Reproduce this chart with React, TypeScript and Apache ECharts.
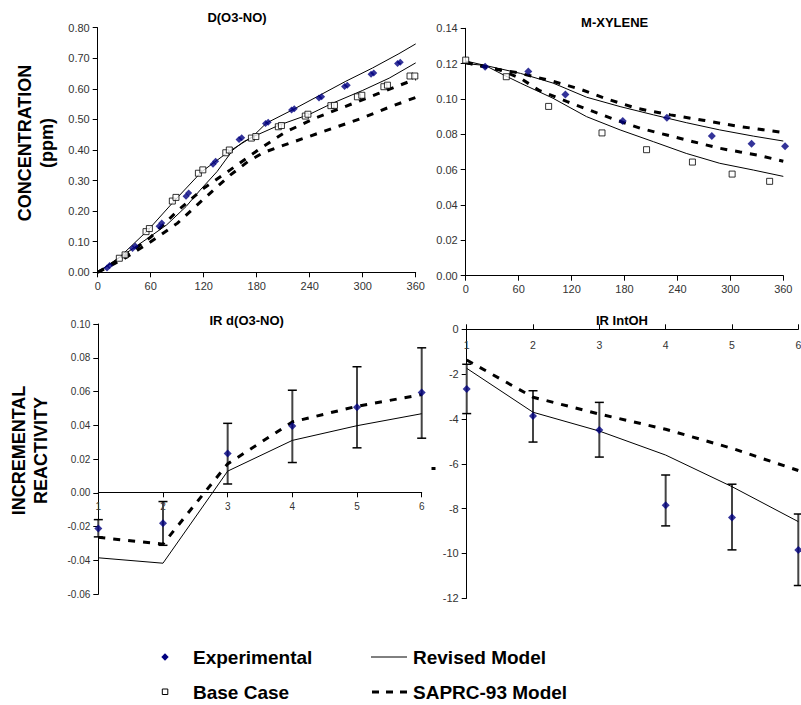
import React, { useEffect, useRef } from 'react';
import * as echarts from 'echarts';

const FONT = '"Liberation Sans", Arial, Helvetica, sans-serif';
const NAVY = '#000080';

// ---------- D(O3-NO) panel (time in minutes, ppm) ----------
const tlExpA = [[10.5, 0.014], [39.5, 0.078], [69.5, 0.151], [100, 0.249], [130.5, 0.353], [160, 0.434], [190, 0.487], [219.5, 0.531], [250.5, 0.57], [279.5, 0.608], [309.5, 0.648], [339.5, 0.683]];
const tlExpB = [[13.5, 0.022], [42.5, 0.086], [72.5, 0.161], [103, 0.259], [133.5, 0.363], [163, 0.44], [193, 0.491], [222.5, 0.535], [253.5, 0.574], [282.5, 0.612], [312.5, 0.652], [342.5, 0.687]];
const tlBaseA = [[24.5, 0.046], [54.7, 0.133], [84.5, 0.233], [114, 0.324], [145, 0.391], [174, 0.439], [204.5, 0.476], [235, 0.511], [264, 0.545], [294, 0.574], [324, 0.607], [353.6, 0.642]];
const tlBaseB = [[31, 0.057], [58.5, 0.143], [88.6, 0.245], [119, 0.335], [149, 0.4], [179, 0.444], [208, 0.48], [238, 0.517], [268, 0.546], [299, 0.579], [328, 0.612], [359, 0.642]];
const tlRevA = [[0, 0], [25, 0.05], [57, 0.138], [87.5, 0.236], [117.7, 0.329], [148, 0.394], [174, 0.441], [206, 0.482], [240, 0.517], [265, 0.552], [300, 0.595], [330, 0.635], [360, 0.685]];
const tlRevB = [[0, 0], [40, 0.078], [59, 0.116], [78, 0.155], [100, 0.215], [116, 0.269], [135, 0.329], [153, 0.4], [165, 0.427], [174, 0.44], [191, 0.488], [221, 0.532], [252, 0.58], [281, 0.625], [311, 0.668], [341, 0.715], [360, 0.747]];
const tlSapC = [[0, 0], [30, 0.05], [60, 0.115], [90, 0.2], [120, 0.275], [150, 0.335], [184, 0.405], [212, 0.458], [246, 0.504], [280, 0.542], [318, 0.585], [360, 0.632]];
const tlSapD = [[0, 0], [30, 0.045], [60, 0.1], [90, 0.16], [120, 0.24], [150, 0.318], [170, 0.362], [188, 0.392], [210, 0.415], [240, 0.445], [270, 0.475], [300, 0.505], [330, 0.54], [360, 0.572]];

// ---------- M-XYLENE panel ----------
const trExp = [[22, 0.1183], [71, 0.1155], [113, 0.1026], [178, 0.0875], [228, 0.0894], [279, 0.079], [324, 0.0747], [362, 0.0732]];
const trBase = [[0, 0.122], [46, 0.1126], [94, 0.0958], [154.5, 0.0808], [205, 0.0713], [257, 0.0643], [302, 0.0575], [344.5, 0.0534]];
const trRevA = [[0, 0.12], [22, 0.119], [62, 0.1145], [99, 0.109], [137, 0.101], [175, 0.0957], [213, 0.091], [250, 0.0866], [288, 0.0825], [326, 0.079], [360, 0.0762]];
const trRevB = [[0, 0.1215], [22, 0.119], [43, 0.1136], [62, 0.109], [99, 0.1004], [137, 0.09], [175, 0.0825], [213, 0.0758], [250, 0.0692], [288, 0.0636], [326, 0.0598], [360, 0.0562]];
const trSapA = [[0, 0.1206], [35, 0.1168], [58, 0.115], [99, 0.11], [130, 0.1055], [160, 0.1], [194, 0.0947], [232, 0.091], [269, 0.088], [307, 0.0847], [360, 0.081]];
const trSapB = [[0, 0.1206], [39, 0.1164], [62, 0.1117], [84, 0.1047], [115, 0.0985], [145, 0.0928], [171, 0.088], [198, 0.0834], [228, 0.0796], [258, 0.0758], [288, 0.0721], [311, 0.07], [330, 0.0683], [360, 0.0648]];

// ---------- IR d(O3-NO) panel ----------
const irX = [1, 2, 3, 4, 5, 6];
const irExp = [-0.021, -0.018, 0.0234, 0.0396, 0.0507, 0.0594];
const irErrLo = [-0.026, -0.031, 0.0053, 0.018, 0.0267, 0.0324];
const irErrHi = [-0.0158, -0.0051, 0.0412, 0.0608, 0.0747, 0.0859];
const irRev = [-0.0384, -0.0416, 0.0129, 0.0311, 0.0398, 0.0469];
const irSap = [-0.0263, -0.0303, 0.0172, 0.042, 0.0513, 0.0582];

// ---------- IR IntOH panel ----------
const ohX = [1, 2, 3, 4, 5, 6];
const ohExp = [-2.66, -3.87, -4.49, -7.85, -8.39, -9.84];
const ohErrHi = [-1.56, -2.74, -3.26, -6.5, -6.91, -8.24];
const ohErrLo = [-3.76, -5.03, -5.7, -8.77, -9.84, -11.43];
const ohRev = [-1.74, -3.7, -4.54, -5.61, -7.02, -8.58];
const ohSap = [-1.37, -3.03, -3.78, -4.46, -5.31, -6.3];

const titles = ['D(O3-NO)', 'M-XYLENE', 'IR d(O3-NO)', 'IR IntOH'];
const legendLabels = ['Experimental', 'Revised Model', 'Base Case', 'SAPRC-93 Model'];

const zip = (xs: number[], ys: number[]) => xs.map((x, i) => [x, ys[i]]);

function makeOption(): any {
  const axisCommon = (gridIndex: number, extra: any = {}) => ({
    gridIndex,
    type: 'value',
    splitLine: { show: false },
    axisLine: { show: true, onZero: false, lineStyle: { color: '#000', width: 1 } },
    axisTick: { show: true, length: 5, lineStyle: { color: '#000', width: 1 } },
    axisLabel: { color: '#333', fontSize: 11, fontFamily: FONT },
    ...extra,
  });
  const fix2 = (v: number) => v.toFixed(2);

  const solid = (xi: number, data: any[]) => ({
    type: 'line', xAxisIndex: xi, yAxisIndex: xi, data, symbol: 'none', showSymbol: false,
    lineStyle: { color: '#000', width: 1 }, silent: true, z: 3,
  });
  const dashed = (xi: number, data: any[]) => ({
    type: 'line', xAxisIndex: xi, yAxisIndex: xi, data, symbol: 'none', showSymbol: false,
    lineStyle: { color: '#000', width: 3, type: [7, 8] }, silent: true, z: 3,
  });
  const diamonds = (xi: number, data: any[], size = 8) => ({
    type: 'scatter', xAxisIndex: xi, yAxisIndex: xi, data, symbol: 'diamond', symbolSize: size,
    itemStyle: { color: NAVY }, clip: false, z: 5,
  });
  const squares = (xi: number, data: any[]) => ({
    type: 'scatter', xAxisIndex: xi, yAxisIndex: xi, data, symbol: 'rect', symbolSize: 6,
    itemStyle: { color: '#fff', borderColor: '#000', borderWidth: 1 }, clip: false, z: 4,
  });
  const errBars = (xi: number, xs: number[], lo: number[], hi: number[]) => ({
    type: 'custom', xAxisIndex: xi, yAxisIndex: xi, clip: false, z: 2,
    data: xs.map((x, i) => [x, lo[i], hi[i]]),
    encode: { x: 0, y: [1, 2] },
    renderItem: (params: any, api: any) => {
      const x = api.value(0);
      const pLo = api.coord([x, api.value(1)]);
      const pHi = api.coord([x, api.value(2)]);
      const w = 4.5;
      return {
        type: 'group',
        children: [
          { type: 'line', shape: { x1: pHi[0], y1: pHi[1], x2: pLo[0], y2: pLo[1] }, style: { stroke: '#444', lineWidth: 2 } },
          { type: 'line', shape: { x1: pHi[0] - w, y1: pHi[1], x2: pHi[0] + w, y2: pHi[1] }, style: { stroke: '#000', lineWidth: 1.5 } },
          { type: 'line', shape: { x1: pLo[0] - w, y1: pLo[1], x2: pLo[0] + w, y2: pLo[1] }, style: { stroke: '#000', lineWidth: 1.5 } },
        ],
      };
    },
  });

  const txt = (x: number, y: number, text: string, size: number, align = 'center', rotation = 0) => ({
    type: 'text', x, y, rotation, silent: true,
    style: {
      text, fill: '#000', font: `bold ${size}px ${FONT}`,
      textAlign: align, textVerticalAlign: 'middle', align, verticalAlign: 'middle',
    },
  });

  const hiddenX = (gridIndex: number) => ({ gridIndex, type: 'value', min: 1, max: 6, interval: 1, show: false });
  const hiddenY = (gridIndex: number) => ({ gridIndex, type: 'value', min: 0, max: 1, show: false });

  return {
    animation: false,
    backgroundColor: '#fff',
    grid: [
      { left: 97.7, top: 27.7, width: 318, height: 244.6, outerBoundsMode: 'none' },
      { left: 465.7, top: 28.3, width: 317.6, height: 247.4, outerBoundsMode: 'none' },
      { left: 98.3, top: 324, width: 323.4, height: 270.3, outerBoundsMode: 'none' },
      { left: 466.7, top: 329.3, width: 331.6, height: 269, outerBoundsMode: 'none' },
      // axis-only grids whose bottom edges sit on the zero lines of the IR panels
      { left: 98.3, top: 324, width: 323.4, height: 168.3, outerBoundsMode: 'none' },
      { left: 466.7, top: 300, width: 331.6, height: 29.3, outerBoundsMode: 'none' },
    ],
    xAxis: [
      axisCommon(0, { min: 0, max: 360, interval: 60 }),
      axisCommon(1, { min: 0, max: 360, interval: 60 }),
      hiddenX(2),
      hiddenX(3),
      axisCommon(4, {
        min: 1, max: 6, interval: 1,
        axisLabel: { color: '#333', fontSize: 10, fontFamily: FONT, margin: 9, showMaxLabel: true, showMinLabel: true },
      }),
      axisCommon(5, {
        min: 1, max: 6, interval: 1,
        axisTick: { show: true, inside: true, length: 5, lineStyle: { color: '#000' } },
        axisLabel: { color: '#333', fontSize: 10.5, fontFamily: FONT, margin: 10, showMaxLabel: true, showMinLabel: true },
      }),
    ],
    yAxis: [
      axisCommon(0, { min: 0, max: 0.8, interval: 0.1, axisLabel: { color: '#333', fontSize: 11, fontFamily: FONT, formatter: fix2 } }),
      axisCommon(1, { min: 0, max: 0.14, interval: 0.02, axisLabel: { color: '#333', fontSize: 11, fontFamily: FONT, formatter: fix2 } }),
      axisCommon(2, { min: -0.06, max: 0.1, interval: 0.02, axisLabel: { color: '#333', fontSize: 10, fontFamily: FONT, formatter: fix2 } }),
      axisCommon(3, { min: -12, max: 0, interval: 2, axisLabel: { color: '#333', fontSize: 11, fontFamily: FONT } }),
      hiddenY(4),
      hiddenY(5),
    ],
    series: [
      // D(O3-NO)
      solid(0, tlRevA), solid(0, tlRevB), dashed(0, tlSapC), dashed(0, tlSapD),
      squares(0, tlBaseA), squares(0, tlBaseB),
      diamonds(0, tlExpA, 7), diamonds(0, tlExpB, 7),
      // M-XYLENE
      solid(1, trRevA), solid(1, trRevB), dashed(1, trSapA), dashed(1, trSapB),
      squares(1, trBase), diamonds(1, trExp, 8),
      // IR d(O3-NO)
      errBars(2, irX, irErrLo, irErrHi),
      solid(2, zip(irX, irRev)), dashed(2, zip(irX, irSap)),
      diamonds(2, zip(irX, irExp), 8),
      // IR IntOH
      errBars(3, ohX, ohErrLo, ohErrHi),
      solid(3, zip(ohX, ohRev)), dashed(3, zip(ohX, ohSap)),
      diamonds(3, zip(ohX, ohExp), 8),
    ],
    graphic: [
      txt(237, 17.5, titles[0], 13),
      txt(614.7, 22.7, titles[1], 13),
      txt(246.7, 320.7, titles[2], 13),
      txt(622, 320.7, titles[3], 13),
      txt(25, 143, 'CONCENTRATION', 18, 'center', Math.PI / 2),
      txt(46.7, 143, '(ppm)', 18, 'center', Math.PI / 2),
      txt(19, 450.5, 'INCREMENTAL', 18, 'center', Math.PI / 2),
      txt(41, 450.5, 'REACTIVITY', 18, 'center', Math.PI / 2),
      // legend
      { type: 'polygon', silent: true, shape: { points: [[165, 653.3], [168.7, 657], [165, 660.7], [161.3, 657]] }, style: { fill: NAVY } },
      txt(193, 657, legendLabels[0], 19, 'left'),
      { type: 'line', silent: true, shape: { x1: 371, y1: 657, x2: 407, y2: 657 }, style: { stroke: '#000', lineWidth: 1 } },
      txt(413, 657, legendLabels[1], 19, 'left'),
      { type: 'rect', silent: true, shape: { x: 162.3, y: 689, width: 5.5, height: 5.5 }, style: { fill: '#fff', stroke: '#000', lineWidth: 1 } },
      txt(193, 692, legendLabels[2], 19, 'left'),
      { type: 'line', silent: true, shape: { x1: 372, y1: 692, x2: 407, y2: 692 }, style: { stroke: '#000', lineWidth: 3, lineDash: [7, 7] } },
      txt(413, 692, legendLabels[3], 19, 'left'),
      // stray mark
      { type: 'rect', silent: true, shape: { x: 431.5, y: 467, width: 4, height: 3 }, style: { fill: '#000' } },
    ],
  };
}

export default function App() {
  const ref = useRef<HTMLDivElement>(null);
  useEffect(() => {
    if (!ref.current) return;
    const chart = echarts.init(ref.current, undefined, { renderer: 'svg' });
    chart.setOption(makeOption());
    return () => chart.dispose();
  }, []);
  return <div ref={ref} style={{ position: 'absolute', left: 0, top: 0, width: 801, height: 705, background: '#fff' }} />;
}
